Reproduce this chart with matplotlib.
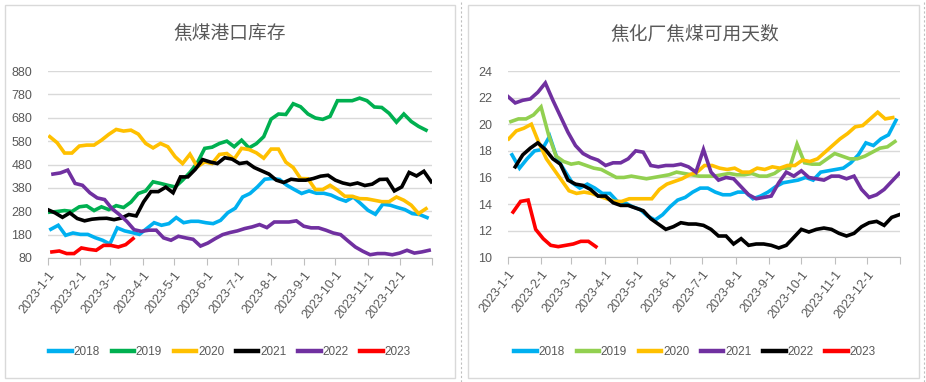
import numpy as np
import matplotlib
matplotlib.use('Agg')
import matplotlib.pyplot as plt
from matplotlib.lines import Line2D
from matplotlib.patches import Rectangle

plt.rcParams['font.family'] = ['Liberation Sans', 'DejaVu Sans', 'Noto Sans CJK SC']

# x axis: days since 2023-1-1, weekly points
month_days = [0, 31, 59, 90, 120, 151, 181, 212, 243, 273, 304, 334]
month_labels = ['2023-%d-1' % m for m in range(1, 13)]
years = ['2018', '2019', '2020', '2021', '2022', '2023']

# ---- left: 焦煤港口库存 (weekly, first day offset in days)
port_start = [3, 2, 2, 0, 5, 4]
port_2018 = [203, 220, 177, 187, 181, 181, 167, 156, 140, 209,
             196, 189, 181, 206, 231, 220, 227, 253, 231, 237,
             237, 231, 227, 241, 274, 293, 341, 356, 384, 417,
             420, 416, 391, 373, 356, 367, 357, 357, 349, 334,
             323, 341, 313, 284, 267, 310, 306, 296, 287, 270,
             266, 253]
port_2019 = [276, 279, 283, 279, 299, 303, 283, 299, 287, 304,
             296, 319, 356, 367, 406, 399, 391, 384, 413, 446,
             487, 549, 554, 570, 580, 556, 584, 551, 569, 599,
             674, 696, 694, 740, 727, 696, 679, 673, 686, 753,
             753, 753, 764, 753, 726, 724, 699, 661, 696, 664,
             643, 627]
port_2020 = [599, 573, 529, 529, 559, 563, 563, 584, 609, 630,
             623, 627, 610, 570, 551, 570, 556, 513, 484, 524,
             470, 491, 484, 523, 527, 503, 549, 544, 530, 507,
             546, 546, 490, 467, 420, 419, 373, 373, 391, 370,
             344, 344, 334, 333, 327, 321, 321, 341, 327, 306,
             270, 291]
port_2021 = [287, 273, 254, 273, 249, 239, 246, 249, 250, 244,
             251, 266, 260, 320, 364, 364, 383, 359, 427, 427,
             459, 501, 491, 484, 509, 503, 484, 489, 467, 453,
             439, 413, 403, 417, 413, 413, 420, 430, 434, 413,
             401, 394, 401, 390, 396, 416, 417, 367, 384, 446,
             431, 451, 406]
port_2022 = [439, 444, 456, 399, 391, 359, 337, 330, 291, 266,
             237, 201, 194, 199, 199, 166, 156, 173, 166, 160,
             131, 144, 163, 180, 189, 196, 206, 213, 223, 210,
             234, 234, 234, 239, 216, 209, 209, 199, 187, 180,
             153, 127, 109, 94, 99, 99, 94, 101, 113, 101,
             106, 113]
port_2023 = [106, 110, 99, 99, 123, 117, 113, 134, 134, 127, 137, 163]
port_ticks = [80, 180, 280, 380, 480, 580, 680, 780, 880]

# ---- right: 焦化厂焦煤可用天数
days_start = [4, 3, 1, 0, 7, 5]
days_2018 = [17.7, 16.7, 17.4, 18.0, 18.1, 19.1, 17.4, 16.5, 15.6, 15.2,
             15.5, 15.2, 14.8, 14.8, 14.2, 14.1, 13.8, 13.6, 13.1, 12.8,
             13.2, 13.8, 14.3, 14.5, 14.9, 15.2, 15.2, 14.9, 14.7, 14.7,
             14.9, 14.9, 14.4, 14.6, 14.9, 15.3, 15.6, 15.7, 15.8, 16.0,
             15.8, 16.4, 16.5, 16.6, 16.7, 17.1, 17.7, 18.6, 18.4, 18.9,
             19.2, 20.3]
days_2019 = [20.2, 20.4, 20.4, 20.7, 21.3, 19.2, 17.6, 17.2, 17.0, 17.1,
             16.9, 16.7, 16.6, 16.3, 16.0, 16.0, 16.1, 16.0, 15.9, 16.0,
             16.1, 16.2, 16.4, 16.3, 16.2, 16.1, 16.1, 16.1, 16.2, 16.3,
             16.2, 16.2, 16.3, 16.1, 16.1, 16.3, 16.7, 16.7, 18.5, 17.1,
             17.0, 17.0, 17.4, 17.8, 17.6, 17.4, 17.4, 17.6, 17.9, 18.2,
             18.3, 18.7]
days_2020 = [18.9, 19.5, 19.7, 20.0, 18.6, 17.4, 16.6, 15.8, 15.0, 14.8,
             14.9, 14.8, 14.6, 14.4, 14.2, 14.2, 14.4, 14.4, 14.4, 14.4,
             15.1, 15.5, 15.7, 15.9, 16.2, 16.4, 16.9, 16.9, 16.7, 16.6,
             16.7, 16.4, 16.4, 16.7, 16.6, 16.8, 16.7, 16.9, 16.9, 17.3,
             17.2, 17.4, 17.9, 18.4, 18.9, 19.3, 19.8, 19.9, 20.4, 20.9,
             20.4, 20.5]
days_2021 = [22.1, 21.6, 21.8, 21.9, 22.4, 23.1, 21.8, 20.6, 19.4, 18.4,
             17.8, 17.5, 17.3, 16.9, 17.1, 17.1, 17.4, 18.0, 17.9, 16.9,
             16.8, 16.9, 16.9, 17.0, 16.8, 16.4, 18.1, 16.4, 15.8, 16.0,
             15.9, 15.3, 14.7, 14.4, 14.5, 14.6, 15.6, 16.4, 16.1, 16.5,
             16.0, 15.9, 15.8, 16.1, 16.1, 15.9, 16.1, 15.1, 14.5, 14.7,
             15.1, 15.7, 16.3]
days_2022 = [16.8, 17.7, 18.2, 18.6, 18.1, 17.4, 17.0, 15.8, 15.5, 15.4,
             15.1, 14.6, 14.6, 14.1, 13.9, 13.9, 13.7, 13.5, 12.9, 12.5,
             12.1, 12.3, 12.6, 12.5, 12.5, 12.4, 12.1, 11.6, 11.6, 11.0,
             11.4, 10.9, 11.0, 11.0, 10.9, 10.7, 10.9, 11.5, 12.1, 11.9,
             12.1, 12.2, 12.1, 11.8, 11.6, 11.8, 12.3, 12.6, 12.7, 12.4,
             13.0, 13.2]
days_2023 = [13.4, 14.2, 14.3, 12.1, 11.4, 10.9, 10.8, 10.9, 11.0, 11.2, 11.2, 10.8]
days_ticks = [10, 12, 14, 16, 18, 20, 22, 24]

port_colors = ['#00B0F0', '#00B050', '#FFC000', '#000000', '#7030A0', '#FF0000']
days_colors = ['#00B0F0', '#92D050', '#FFC000', '#7030A0', '#000000', '#FF0000']

txt = '#595959'
grid = '#D9D9D9'


def draw_panel(ax, series, starts, colors, ticks, title, title_x):
    for vals, st, col, lab in zip(series, starts, colors, years):
        x = st + 7 * np.arange(len(vals))
        ax.plot(x, vals, color=col, lw=2.6, label=lab, solid_joinstyle='miter')
    ax.set_xlim(0, 365)
    ax.set_ylim(ticks[0], ticks[-1])
    ax.set_yticks(ticks)
    ax.set_xticks(month_days + [365])
    ax.set_xticklabels(month_labels + [''], rotation=52, ha='right',
                       rotation_mode='anchor', color=txt, fontsize=9)
    ax.tick_params(axis='x', length=5, color='#BFBFBF', pad=3)
    ax.tick_params(axis='y', length=0, labelcolor=txt, labelsize=9, pad=11)
    ax.grid(axis='y', color=grid, lw=1)
    ax.set_axisbelow(True)
    for s in ['top', 'right', 'left']:
        ax.spines[s].set_visible(False)
    ax.spines['bottom'].set_color('#BFBFBF')
    fig.text(title_x, 0.912, title, ha='center', va='center', fontsize=13.5,
             color=txt, family=['Noto Sans CJK SC', 'DejaVu Sans'])
    handles = [Line2D([], [], color=c, lw=3.2) for c in colors]
    fig.legend(handles, years, loc='center', bbox_to_anchor=(title_x, 0.078),
               ncol=6, frameon=False, handlelength=1.9, handletextpad=0.15,
               columnspacing=1.0, fontsize=8.5, labelcolor=txt)


fig = plt.figure(figsize=(9.26, 3.82), dpi=100)

# panel frames
fig.patches.append(Rectangle((5 / 926, 4 / 382), 450 / 926, 373 / 382, transform=fig.transFigure,
                             fill=False, edgecolor='#D9D9D9', lw=1))
fig.patches.append(Rectangle((468 / 926, 4 / 382), 451 / 926, 373 / 382, transform=fig.transFigure,
                             fill=False, edgecolor='#D9D9D9', lw=1))
for xx in [461, 924]:
    fig.lines.append(Line2D([xx / 926, xx / 926], [0, 1], transform=fig.transFigure,
                            color='#BFBFBF', lw=0.8, ls=(0, (2, 2))))

ax1 = fig.add_axes([47.7 / 926, 1 - 258 / 382, (432.3 - 47.7) / 926, 187 / 382])
draw_panel(ax1, [port_2018, port_2019, port_2020, port_2021, port_2022, port_2023],
           port_start, port_colors, port_ticks, '焦煤港口库存', 230 / 926)

ax2 = fig.add_axes([507.7 / 926, 1 - 257.3 / 382, (900.3 - 507.7) / 926, 186.3 / 382])
draw_panel(ax2, [days_2018, days_2019, days_2020, days_2021, days_2022, days_2023],
           days_start, days_colors, days_ticks, '焦化厂焦煤可用天数', 695 / 926)

fig.savefig('out.png', dpi=100)
